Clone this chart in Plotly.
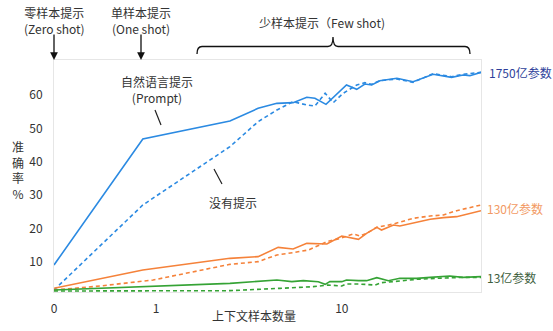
import plotly.graph_objects as go

# x positions are in axis units (0..100 across the plot; ticks 0, 1, 10 at their places)
tick_pos = [0, 23.9, 67.4]
tick_text = ["0", "1", "10"]
y_ticks = [10, 20, 30, 40, 50, 60]

# 1750亿参数
b_prompt_x = [0, 20.8, 41.2, 47.8, 52.2, 56.0, 59.2, 61.1, 63.7, 68.5, 70.9, 72.8, 74.4, 76.3, 80.3, 84.1, 88.8, 93.1, 95.8, 97.4, 100]
b_prompt_y = [9, 46.8, 52.2, 56, 57.5, 57.7, 59.3, 59, 57.2, 63, 61.7, 63.3, 63, 64.3, 65, 64, 66.2, 65.3, 66, 65.8, 66.8]
b_none_x = [0, 20.8, 41.2, 47.8, 52.2, 56.0, 59.2, 61.1, 63.5, 65.4, 67.7, 70.9, 72.8, 74.4, 76.3, 80.3, 84.1, 88.8, 93.1, 95.8, 100]
b_none_y = [1.5, 27, 44.5, 52, 55.5, 58, 57, 56.7, 60.5, 57.7, 60.5, 63, 63.7, 63.2, 64.3, 64.8, 63.8, 66.4, 65.5, 66.2, 66.8]

# 130亿参数
o_prompt_x = [0, 20.8, 41.2, 47.8, 52.5, 56.0, 59.2, 63.9, 67.4, 71.3, 73.2, 75.6, 76.7, 79.5, 81.0, 84.1, 88.1, 91.2, 94.3, 100]
o_prompt_y = [2, 7.5, 11, 11.5, 14.3, 13.8, 15.5, 15.3, 17.7, 16.7, 18.5, 20.3, 19.5, 21, 20.7, 21.5, 22.7, 23.2, 23.5, 25.3]
o_none_x = [0, 10.8, 23.2, 41.2, 47.8, 52.2, 56.0, 59.6, 63.9, 67.1, 70.1, 71.7, 73.2, 75.6, 79.5, 84.1, 88.1, 91.2, 94.3, 100]
o_none_y = [1.5, 2.7, 4.5, 9.2, 10, 12, 12.7, 13.5, 16, 17, 18.3, 17.7, 18.5, 20.3, 21.3, 23, 23.7, 24, 25.3, 27]

# 13亿参数
g_prompt_x = [0, 41.2, 52.2, 55.7, 58.4, 61.9, 63.5, 64.6, 67.4, 68.5, 71.3, 73.2, 75.6, 78.3, 81.0, 84.9, 88.1, 92.7, 95.8, 100]
g_prompt_y = [1.5, 3.5, 4.5, 4, 4.3, 4, 3.2, 4, 4, 4.5, 4.3, 4.3, 5.2, 4.3, 5, 5, 5.3, 5.7, 5.3, 5.5]
g_none_x = [0, 41.2, 52.9, 60.7, 64.2, 67.4, 68.5, 71.3, 75.2, 76.7, 81.0, 84.9, 89.6, 92.7, 95.8, 100]
g_none_y = [1.2, 1.3, 2, 2.5, 3, 2.7, 3.3, 3.3, 3, 3.7, 4.2, 4.7, 5, 5.2, 5.3, 5.3]

BLUE = "#2B8AE2"
ORANGE = "#F5823A"
GREEN = "#35A335"
FONT = "Noto Sans CJK SC"

fig = go.Figure()
series = [
    (b_prompt_x, b_prompt_y, BLUE, "solid"),
    (b_none_x, b_none_y, BLUE, "4px,3px"),
    (o_prompt_x, o_prompt_y, ORANGE, "solid"),
    (o_none_x, o_none_y, ORANGE, "4px,3px"),
    (g_prompt_x, g_prompt_y, GREEN, "solid"),
    (g_none_x, g_none_y, GREEN, "4px,3px"),
]
for xs, ys, c, d in series:
    fig.add_trace(go.Scatter(x=xs, y=ys, mode="lines",
                             line=dict(color=c, width=1.6, dash=d),
                             showlegend=False, hoverinfo="skip"))

fig.update_layout(
    width=553, height=331,
    margin=dict(l=54, r=72, t=60, b=39),
    paper_bgcolor="white", plot_bgcolor="white",
    font=dict(family=FONT, size=12, color="#333333"),
    showlegend=False,
)
fig.update_xaxes(range=[0, 100], tickvals=tick_pos, ticktext=tick_text,
                 showgrid=False, zeroline=False, showline=True, linecolor="#e6e6e6",
                 linewidth=1, mirror=True, ticks="", ticklabelstandoff=6,
                 tickfont=dict(size=12, color="#333333"))
fig.update_yaxes(range=[0.9, 70.5], tickvals=y_ticks,
                 showgrid=False, zeroline=False, showline=True, linecolor="#e6e6e6",
                 linewidth=1, mirror=True, ticks="", ticklabelstandoff=8,
                 tickfont=dict(size=12, color="#333333"))

def px_x(p):
    return (p - 54) / 427.0

def px_y(p):
    return (292 - p) / 232.0

ann = []
def text(px, py, s, color="#333333", size=12, xanchor="center"):
    ann.append(dict(x=px_x(px), y=px_y(py), xref="paper", yref="paper", text=s,
                    showarrow=False, xanchor=xanchor, yanchor="middle",
                    font=dict(family=FONT, size=size, color=color)))

text(54, 21, "零样本提示<br>(Zero shot)")
text(141, 21, "单样本提示<br>(One shot)")
text(322, 23, "少样本提示（Few shot)")
text(157, 89, "自然语言提示<br>(Prompt)")
text(233, 202, "没有提示")
text(18, 170, "准<br>确<br>率<br>%")
text(254, 315, "上下文样本数量")
text(487, 72, "1750亿参数", color="#2E3F9A", xanchor="left")
text(485, 209, "130亿参数", color="#F29A63", xanchor="left")
text(485, 277, "13亿参数", color="#3D5E3D", xanchor="left")

# arrows for zero / one shot
for ax_px in (54, 141):
    ann.append(dict(x=px_x(ax_px), y=px_y(60), xref="paper", yref="paper",
                    ax=0, ay=-27, axref="pixel", ayref="pixel", text="",
                    showarrow=True, arrowhead=2, arrowsize=1.2, arrowwidth=1.3,
                    arrowcolor="#111111"))
fig.update_layout(annotations=ann)

# brace over few-shot region
x0, x1, xc = px_x(197), px_x(470), px_x(333)
ye, yl, ya = px_y(54), px_y(46.5), px_y(37)
rx = 5 / 427.0
path = (f"M {x0},{ye} Q {x0},{yl} {x0+rx},{yl} L {xc-rx},{yl} "
        f"Q {xc},{yl} {xc},{ya} Q {xc},{yl} {xc+rx},{yl} L {x1-rx},{yl} "
        f"Q {x1},{yl} {x1},{ye}")
shapes = [dict(type="path", path=path, xref="paper", yref="paper",
               line=dict(color="#111111", width=1.3))]
# leader lines
shapes.append(dict(type="line", xref="paper", yref="paper",
                   x0=px_x(155), y0=px_y(110), x1=px_x(161), y1=px_y(125),
                   line=dict(color="#222222", width=1.2)))
shapes.append(dict(type="line", xref="paper", yref="paper",
                   x0=px_x(214), y0=px_y(169), x1=px_x(222), y1=px_y(184),
                   line=dict(color="#222222", width=1.2)))
fig.update_layout(shapes=shapes)

fig.write_html("out.html")
